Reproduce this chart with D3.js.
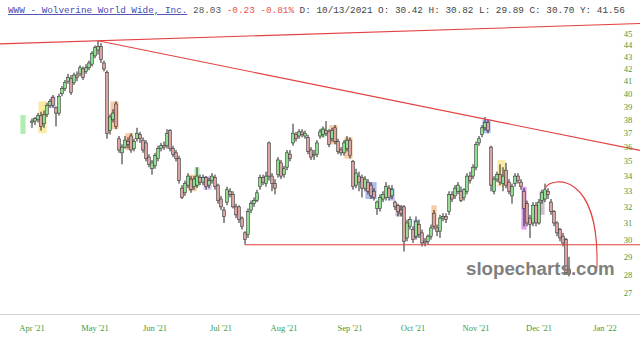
<!DOCTYPE html>
<html>
<head>
<meta charset="utf-8">
<script src="https://cdn.jsdelivr.net/npm/d3@7"></script>
<style>
  html, body { margin: 0; padding: 0; background: #fff; }
  svg { display: block; }
</style>
</head>
<body>
<svg id="chart"></svg>
<script>
// trading calendar (weekdays minus NYSE holidays)
const firstDay = "2021-03-29";
const lastDay = "2022-01-14";
const holidays = ["2021-04-02", "2021-05-31", "2021-07-05", "2021-09-06", "2021-11-25", "2021-12-24"];

// OHLC, one entry per trading day from 2021-03-29 (null = no bar)
const opens = [null, null, null,
  37.8, 37.9, 38.0, 38.3, 37.7, 38.4, 39.1, 39.7, 38.9, 38.5, 40.0, 40.4, 41.0, 41.2, 40.9, 41.5, 41.6, 42.0,
  41.8, 42.1, 42.4, 43.1, 43.6, 43.9, 42.5, 41.7, 37.2, 38.0, 39.2, 36.6, 35.6, 36.0, 36.4, 36.8, 35.9, 36.6,
  36.9, 36.5, 36.3, 35.3, 34.5, 34.7, 35.2, 35.9, 36.1, 36.1, 37.2, 35.9, 35.6, 35.2, 33.2, 32.9, 33.4, 33.8,
  33.3, 33.4, 33.9, 33.6, 33.9, 33.4, 33.7, 33.9, 33.4, 32.5, 31.8, 32.3, 33.0, 32.8, 32.0, 32.0, 31.3, 30.4,
  30.3, 31.8, 32.2, 32.4, 33.3, 33.9, 33.5, 36.3, 34.0, 33.5, 34.1, 34.9, 34.1, 34.6, 35.5, 36.3, 36.9, 36.8,
  37.1, 36.8, 36.7, 35.8, 35.4, 35.5, 36.8, 36.9, 37.2, 37.1, 36.6, 37.4, 36.4, 35.8, 35.6, 35.9, 36.5, 35.0,
  33.4, 34.0, 33.9, 33.2, 33.6, 33.4, 33.0, 31.9, 31.9, 32.5, 32.6, 33.2, 32.7, 32.3, 32.1, 31.8, 32.0, 30.1,
  30.8, 30.6, 30.2, 30.9, 30.4, 29.9, 29.9, 30.2, 31.6, 30.7, 30.5, 31.3, 31.4, 31.7, 32.8, 32.7, 33.0, 33.0,
  32.6, 33.0, 34.0, 34.0, 34.6, 36.3, 36.9, 37.4, 37.8, 36.0, 33.0, 33.8, 34.1, 33.5, 34.4, 33.6, 32.7, 33.5,
  34.0, 33.6, 33.0, 32.2, 31.3, 31.0, 32.1, 31.0, 32.4, 32.5, 33.0, 32.3, 31.7, 31.0, 30.6, 30.2, 30.0, 28.3];
const highs = [null, null, null,
  38.1, 38.2, 38.5, 38.6, 38.7, 39.3, 39.6, 39.9, 39.0, 40.0, 40.6, 41.1, 41.6, 41.5, 41.7, 41.8, 42.3, 42.2,
  42.4, 42.7, 43.5, 44.0, 44.4, 44.2, 42.7, 41.9, 38.4, 38.8, 39.4, 36.8, 36.2, 36.8, 36.7, 37.0, 36.6, 37.4,
  37.1, 36.7, 36.5, 35.5, 35.1, 35.6, 36.1, 36.3, 36.4, 37.3, 37.3, 36.1, 35.8, 35.4, 33.4, 33.7, 34.2, 34.0,
  34.0, 34.6, 34.1, 34.1, 34.0, 33.9, 34.2, 34.1, 33.5, 32.7, 32.0, 33.3, 33.2, 33.0, 32.2, 32.1, 31.4, 30.5,
  31.9, 32.4, 32.6, 33.1, 34.1, 34.1, 34.3, 36.4, 34.2, 33.8, 35.3, 35.1, 34.7, 35.8, 35.8, 37.7, 37.1, 37.3,
  37.3, 37.2, 36.9, 36.0, 35.8, 36.5, 37.3, 37.5, 37.9, 37.3, 37.4, 37.6, 36.6, 36.0, 36.5, 36.8, 36.7, 35.1,
  34.5, 34.3, 34.1, 34.0, 33.8, 33.6, 33.2, 32.4, 32.8, 33.0, 33.6, 33.4, 33.4, 32.4, 32.2, 32.1, 32.1, 31.2,
  31.4, 30.8, 31.4, 31.2, 30.6, 30.1, 30.3, 30.9, 31.8, 30.9, 31.5, 31.6, 31.6, 33.0, 33.0, 33.4, 33.6, 33.3,
  33.2, 34.2, 34.3, 34.8, 36.4, 36.8, 37.6, 38.2, 38.0, 36.1, 34.0, 34.3, 34.8, 34.6, 34.9, 33.8, 33.5, 34.2,
  34.2, 33.8, 33.2, 32.4, 31.5, 32.3, 32.3, 32.5, 33.1, 33.5, 33.2, 32.5, 31.8, 31.1, 30.7, 30.4, 30.1, 29.0];
const lows = [null, null, null,
  37.4, 37.6, 37.8, 37.2, 37.4, 38.2, 38.9, 38.9, 37.5, 38.3, 39.8, 40.2, 40.8, 39.9, 40.7, 41.0, 41.4, 41.1,
  41.6, 41.9, 42.2, 42.9, 43.2, 42.5, 41.8, 36.6, 36.9, 37.8, 37.3, 35.6, 34.8, 35.9, 35.9, 35.6, 35.7, 36.4,
  36.3, 35.6, 35.0, 34.6, 34.1, 34.5, 35.0, 35.7, 35.8, 35.9, 35.7, 35.3, 35.0, 33.5, 32.5, 32.7, 33.2, 32.9,
  33.1, 33.2, 33.4, 33.4, 33.1, 33.2, 33.5, 33.1, 32.2, 31.8, 31.0, 32.1, 32.6, 31.9, 31.3, 31.0, 30.6, 29.7,
  30.1, 31.6, 32.0, 32.3, 33.1, 33.4, 33.3, 33.7, 33.0, 32.8, 33.9, 33.8, 33.9, 34.4, 35.0, 36.1, 36.4, 36.6,
  36.7, 36.6, 35.5, 35.1, 35.1, 35.3, 36.6, 36.7, 36.8, 36.0, 36.4, 36.2, 35.5, 35.4, 35.4, 35.7, 35.2, 33.1,
  33.2, 33.0, 32.6, 33.0, 32.8, 32.5, 32.4, 31.5, 31.7, 32.3, 32.4, 32.4, 32.5, 31.8, 31.4, 31.4, 29.3, 29.9,
  30.6, 29.8, 30.0, 30.1, 29.6, 29.6, 29.7, 30.0, 30.6, 30.2, 30.1, 31.1, 31.0, 31.5, 32.3, 32.5, 32.8, 32.3,
  32.4, 32.8, 33.5, 33.8, 34.4, 36.1, 36.7, 37.2, 37.0, 33.0, 32.8, 33.6, 33.4, 33.0, 33.2, 32.8, 32.2, 33.3,
  33.5, 33.1, 30.8, 30.8, 30.1, 30.8, 30.8, 30.9, 32.2, 32.3, 32.5, 31.5, 30.8, 30.2, 29.9, 29.6, 28.0, 27.9];
const closes = [null, null, null,
  37.9, 38.1, 38.3, 37.5, 38.4, 39.1, 39.4, 39.1, 38.5, 39.8, 40.4, 40.9, 41.3, 40.1, 41.5, 41.3, 42.1, 41.3,
  42.1, 42.5, 43.3, 43.8, 43.9, 42.8, 42.0, 37.0, 38.2, 38.5, 37.5, 35.8, 36.0, 36.5, 36.2, 35.8, 36.4, 37.0,
  36.6, 35.8, 35.2, 34.8, 34.9, 35.4, 35.9, 36.1, 36.0, 37.0, 35.9, 35.5, 35.2, 33.7, 32.6, 33.5, 34.0, 33.1,
  33.8, 34.0, 33.6, 33.9, 33.3, 33.7, 34.0, 33.3, 32.4, 32.0, 31.4, 33.1, 32.8, 32.0, 31.5, 31.2, 30.8, 30.0,
  31.7, 32.2, 32.4, 32.9, 33.9, 33.6, 34.0, 34.0, 33.5, 33.2, 35.1, 34.0, 34.5, 35.6, 35.2, 37.0, 36.6, 37.1,
  36.9, 37.0, 35.7, 35.3, 35.5, 36.3, 37.1, 37.3, 37.0, 36.2, 37.2, 36.4, 35.7, 35.6, 36.3, 36.5, 35.4, 33.3,
  34.2, 33.6, 33.2, 33.8, 33.0, 32.7, 32.6, 32.3, 32.6, 32.8, 33.3, 32.6, 33.1, 32.0, 31.7, 31.6, 29.9, 31.0,
  31.2, 30.0, 31.1, 30.3, 29.8, 29.8, 30.2, 30.7, 30.8, 30.5, 31.3, 31.4, 31.2, 32.8, 32.5, 33.2, 33.4, 32.4,
  33.1, 34.0, 33.7, 34.6, 36.2, 36.6, 37.4, 37.8, 37.2, 33.4, 33.8, 34.1, 33.6, 34.0, 33.4, 33.0, 33.3, 34.0,
  33.7, 33.3, 31.9, 31.0, 30.9, 32.1, 31.0, 32.3, 32.9, 33.1, 32.8, 31.7, 31.0, 30.4, 30.1, 29.8, 28.1, 28.03];

// marked bars: first bar, last bar, top and bottom price, colour
const marks = [
  [0, 0, 38.35, 36.95, "#7ee07e"], [6, 7, 39.4, 37.0, "#f5dc6a"], [10, 10, 39.8, 38.9, "#c9a6ec"],
  [30, 31, 39.4, 37.3, "#f2a868"], [35, 36, 37.0, 35.8, "#f2a868"], [56, 57, 34.1, 33.0, "#f2a868"],
  [58, 58, 34.6, 33.3, "#7ee07e"], [61, 62, 34.0, 33.1, "#c9a6ec"], [100, 100, 37.4, 36.7, "#7ee07e"],
  [103, 104, 37.6, 36.2, "#f2a868"], [108, 109, 36.7, 35.2, "#f2a868"], [115, 117, 33.6, 32.5, "#7d8ce6"],
  [123, 123, 33.2, 32.4, "#7d8ce6"], [125, 126, 32.1, 31.4, "#a896aa"], [131, 131, 31.2, 30.1, "#7d8ce6"],
  [137, 137, 32.1, 30.7, "#f2a868"], [154, 155, 38.0, 37.0, "#7d8ce6"], [159, 160, 35.1, 33.3, "#f5dc6a"],
  [167, 167, 33.3, 30.6, "#cc5fe0"], [173, 173, 33.0, 31.5, "#a896aa"]
];

// drawn lines: [bar, price] pairs
const resistTop = [[25, 44.4], [190, 45.8]];
const resistDown = [[25, 44.4], [154, 38.05]];
const support = [74, 29.7];
const arcPts = [[174, 33.2], [176.3, 34.0], [192.3, 34.3], [191.3, 28.36]];

const yTicks = d3.range(27, 46);
const header = [
  ["WWW - Wolverine World Wide, Inc.", "#4a4aae", true],
  [" 28.03", "#555", false],
  [" -0.23 -0.81%", "#e8534f", false],
  [" D: 10/13/2021 O: 30.42 H: 30.82 L: 29.89 C: 30.70 Y: 41.56", "#444", false]
];

const width = 640, height = 345;
const svg = d3.select('#chart').attr('width', width).attr('height', height);

const parse = d3.timeParse("%Y-%m-%d");
const fmt = d3.timeFormat("%Y-%m-%d");
const days = d3.timeDay.range(parse(firstDay), d3.timeDay.offset(parse(lastDay), 1))
  .filter(d => d.getDay() !== 0 && d.getDay() !== 6 && !holidays.includes(fmt(d)));

const x = d3.scaleLinear().domain([0, 205]).range([23, 638]);
const y = d3.scaleLog().domain([27, 45]).range([293, 34]);

// bottom rule
svg.append("line").attr("x1", 0).attr("x2", width).attr("y1", 314.5).attr("y2", 314.5)
  .attr("stroke", "#d4d4d4").attr("stroke-width", 1);

// highlight boxes
svg.append("g").selectAll("rect").data(marks).enter().append("rect")
  .attr("x", d => x(d[0]) - 2.6)
  .attr("width", d => x(d[1]) - x(d[0]) + 5.2)
  .attr("y", d => y(d[2]))
  .attr("height", d => y(d[3]) - y(d[2]))
  .attr("fill", d => d[4]).attr("fill-opacity", 0.6);

// candles
const bars = opens.map((o, i) => ({ i, o, h: highs[i], l: lows[i], c: closes[i] })).filter(d => d.o != null);
const cg = svg.append("g");
cg.selectAll("line").data(bars).enter().append("line")
  .attr("x1", d => x(d.i)).attr("x2", d => x(d.i))
  .attr("y1", d => y(d.h)).attr("y2", d => y(d.l))
  .attr("stroke", "#222").attr("stroke-width", 1);
cg.selectAll("rect").data(bars).enter().append("rect")
  .attr("x", d => x(d.i) - 1.4)
  .attr("width", 2.8)
  .attr("y", d => y(Math.max(d.o, d.c)))
  .attr("height", d => Math.max(1, Math.abs(y(d.o) - y(d.c))))
  .attr("fill", d => d.c >= d.o ? "#8fdf8f" : "#dca3a3")
  .attr("stroke", "#3a3a3a").attr("stroke-width", 0.6);

// trend lines (extended in screen space)
function extend(p, q, x0, x1) {
  const ax = x(p[0]), ay = y(p[1]), bx = x(q[0]), by = y(q[1]);
  const k = (by - ay) / (bx - ax);
  return [[x0, ay + (x0 - ax) * k], [x1, ay + (x1 - ax) * k]];
}
const red = "#e2413f";
const lines = [
  extend(resistTop[0], resistTop[1], 0, width),
  extend(resistDown[0], resistDown[1], x(resistDown[0][0]), width),
  [[x(support[0]), y(support[1])], [width, y(support[1])]]
];
svg.append("g").selectAll("line").data(lines).enter().append("line")
  .attr("x1", d => d[0][0]).attr("y1", d => d[0][1])
  .attr("x2", d => d[1][0]).attr("y2", d => d[1][1])
  .attr("stroke", red).attr("stroke-width", 1.1);

const ap = arcPts.map(p => [x(p[0]), y(p[1])]);
const arc = d3.path();
arc.moveTo(ap[0][0], ap[0][1]);
arc.bezierCurveTo(ap[1][0], ap[1][1], ap[2][0], ap[2][1], ap[3][0], ap[3][1]);
svg.append("path").attr("d", arc.toString()).attr("fill", "none")
  .attr("stroke", red).attr("stroke-width", 1.1);

// watermark
svg.append("text").attr("x", 466).attr("y", 275)
  .attr("font-family", "Liberation Sans, Arial, sans-serif").attr("font-weight", "bold")
  .attr("font-size", 18.7).attr("fill", "#7f7f7f").text("slopecharts.com");

// y axis labels
svg.append("g").selectAll("text").data(yTicks).enter().append("text")
  .attr("x", 628).attr("y", d => y(d) + 3)
  .attr("text-anchor", "middle")
  .attr("font-family", "Liberation Serif, serif").attr("font-size", 8.5)
  .attr("fill", "#3f9a3f").text(d => d);

// x axis labels at first trading day of month
const monthStarts = days.map((d, i) => ({ d, i }))
  .filter(o => o.i > 0 && o.d.getMonth() !== days[o.i - 1].getMonth());
const monthFmt = d3.timeFormat("%b '%y");
svg.append("g").selectAll("text").data(monthStarts).enter().append("text")
  .attr("x", o => x(o.i)).attr("y", 331)
  .attr("text-anchor", "middle")
  .attr("font-family", "Liberation Serif, serif").attr("font-size", 8.5)
  .attr("fill", "#3f9a3f").text(o => monthFmt(o.d));

// header
const ht = svg.append("text").attr("x", 8).attr("y", 13)
  .attr("font-family", "Liberation Mono, monospace").attr("font-size", 9.35)
  .attr("xml:space", "preserve");
header.forEach(h => {
  ht.append("tspan").attr("fill", h[1])
    .style("text-decoration", h[2] ? "underline" : "none")
    .style("white-space", "pre")
    .text(h[0]);
});
</script>
</body>
</html>
